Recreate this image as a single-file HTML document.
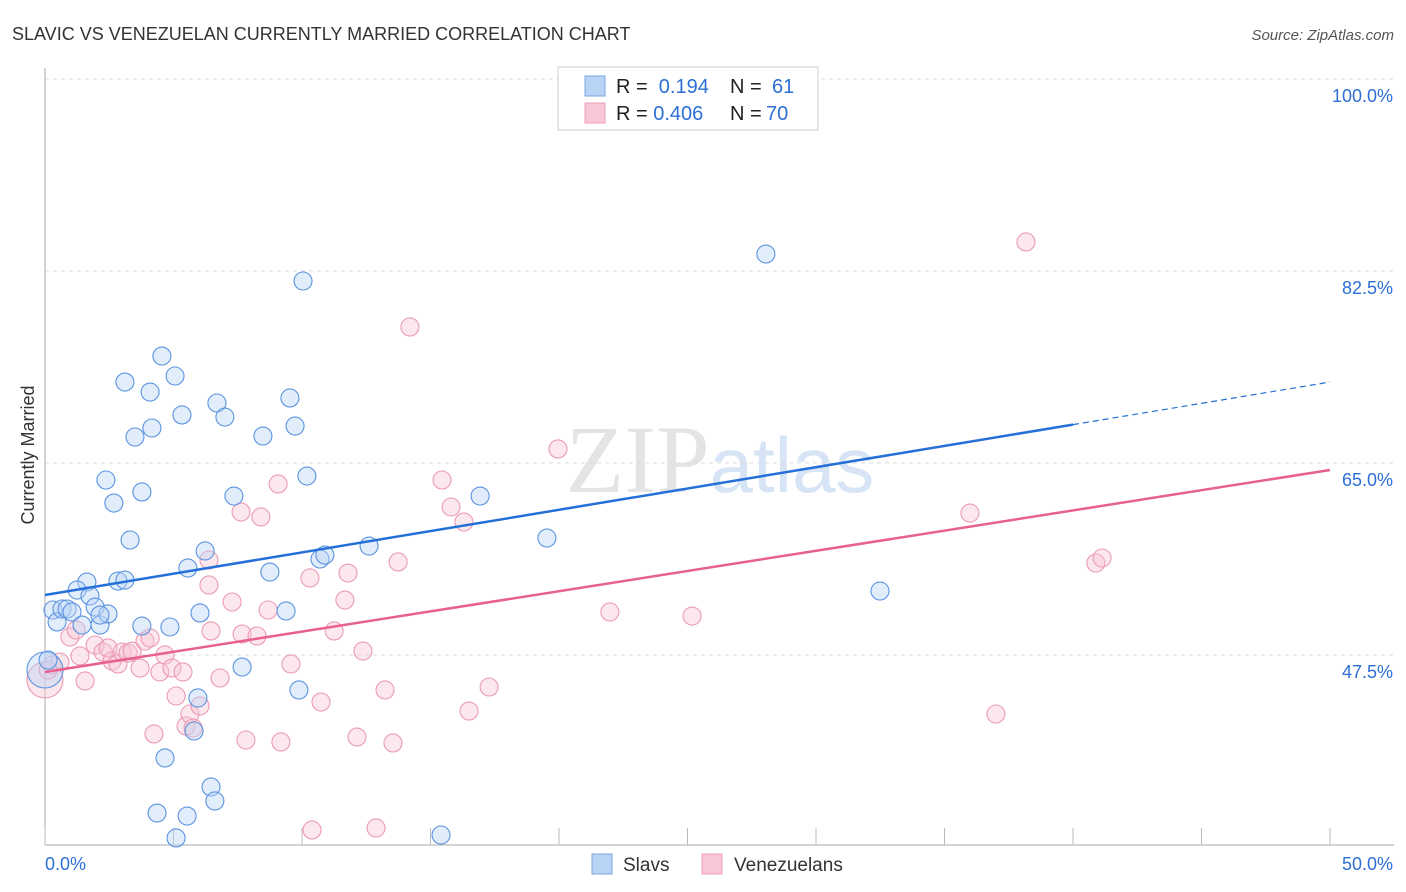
<!DOCTYPE html>
<html><head><meta charset="utf-8"><style>
body{margin:0;background:#fff;font-family:"Liberation Sans",sans-serif}
svg{display:block}
</style></head><body>
<svg id="chart" width="1406" height="892">
<text x="12" y="40" font-size="18" fill="#333">SLAVIC VS VENEZUELAN CURRENTLY MARRIED CORRELATION CHART</text>
<text x="1394" y="40" font-size="15" fill="#555" font-style="italic" text-anchor="end">Source: ZipAtlas.com</text>
<text x="720" y="492" font-size="96" fill="#e4e4e4" text-anchor="middle" font-family="Liberation Serif,serif">ZIP<tspan fill="#d6e4f5" font-family="Liberation Sans,sans-serif" font-size="78">atlas</tspan></text>
<text transform="translate(34,455) rotate(-90)" font-size="18" fill="#333" text-anchor="middle">Currently Married</text>
<g id="grid"></g><g id="marks"></g>
<g>
<rect x="558" y="67" width="260" height="63" fill="#fff" stroke="#ccc"/>
<rect x="585" y="76" width="20" height="20" fill="#b9d3f5" stroke="#7aa7e3"/>
<rect x="585" y="103" width="20" height="20" fill="#f9c6d5" stroke="#eba0b8"/>
<text x="616" y="93" font-size="20" fill="#222">R = <tspan fill="#2d6fd6">&#160;0.194</tspan><tspan x="730">N = </tspan><tspan fill="#2d6fd6" x="772">61</tspan></text>
<text x="616" y="120" font-size="20" fill="#222">R = <tspan fill="#2d6fd6">0.406</tspan><tspan x="730">N = </tspan><tspan fill="#2d6fd6" x="766">70</tspan></text>
</g>
<g>
<rect x="592" y="854" width="20" height="20" fill="#b9d3f5" stroke="#7aa7e3"/>
<text x="623" y="871" font-size="19" fill="#333">Slavs</text>
<rect x="702" y="854" width="20" height="20" fill="#f9c6d5" stroke="#eba0b8"/>
<text x="734" y="871" font-size="19" fill="#333">Venezuelans</text>
</g>
</svg>
<script>
const yTicks=[47.5,65,82.5,100];
const yTickLabels=["47.5%","65.0%","82.5%","100.0%"];
const xTickLabels=["0.0%","50.0%"];
const slavX=[0.31,0.47,0.66,0.86,1.05,1.63,1.25,1.75,1.95,2.14,2.45,1.44,2.14,2.37,2.68,2.84,3.11,3.31,3.11,3.50,3.77,4.09,4.16,4.55,5.06,5.33,3.77,4.86,5.56,6.03,6.23,6.69,7.00,7.35,8.48,8.75,9.38,9.53,9.73,10.19,10.04,7.67,5.95,5.80,4.67,6.46,6.61,4.36,5.53,5.10,9.88,10.70,10.89,12.61,15.41,16.93,19.53,28.05,32.49,0,0.12];
const slavY=[51.60,50.51,51.69,51.69,51.42,54.15,53.42,52.88,51.87,50.23,51.24,50.23,51.14,63.45,61.35,54.24,54.33,57.98,72.38,67.37,62.36,71.47,68.19,74.75,72.93,69.38,50.14,50.05,55.43,51.33,56.98,70.47,69.19,61.99,67.46,55.06,51.51,70.93,68.37,63.81,81.59,46.40,43.58,40.57,38.11,35.47,34.19,33.09,32.82,30.82,44.31,56.25,56.61,57.43,31.09,61.99,58.16,84.05,53.33,46.13,47.04];
const venX=[0,0.27,0.58,0.97,1.21,1.36,1.56,1.95,2.26,2.45,2.61,2.84,3.00,3.23,3.39,3.70,3.89,4.09,4.24,4.47,4.67,4.94,5.10,5.37,5.49,5.64,5.76,6.03,6.38,6.38,6.46,6.81,7.28,7.67,7.82,7.63,8.25,8.40,8.68,9.07,9.18,9.57,10.31,10.39,10.74,11.25,11.67,11.79,12.14,12.37,12.88,13.23,13.54,13.74,14.20,15.45,15.80,16.30,16.50,17.28,19.96,21.98,25.18,35.99,37.00,38.17,40.89,41.13,0.12];
const venY=[45.22,46.59,46.86,49.14,49.78,47.41,45.13,48.41,47.77,48.14,46.95,46.68,47.77,47.68,47.86,46.31,48.77,49.05,40.30,45.95,47.50,46.31,43.76,45.95,41.03,42.12,40.84,42.85,56.16,53.88,49.69,45.40,52.33,49.41,39.75,60.53,49.23,60.08,51.60,63.09,39.57,46.68,54.52,31.55,43.21,49.69,52.51,54.97,40.02,47.86,31.73,44.31,39.48,55.98,77.40,63.45,60.99,59.62,42.39,44.58,66.28,51.42,51.05,60.44,42.12,85.15,55.88,56.34,46.13];
const slavTrend=[52.97,72.38];
const venTrend=[45.95,64.36];
const NS="http://www.w3.org/2000/svg";
const X=v=>45+v*25.7, Y=v=>463-(v-65)*10.97;
function mk(t,a,p){const e=document.createElementNS(NS,t);for(const k in a)e.setAttribute(k,a[k]);p.appendChild(e);return e;}
const g=document.getElementById('grid'), m=document.getElementById('marks');
yTicks.forEach((t,i)=>{
 const l=mk('line',{x1:45,x2:1394,y1:Y(t),y2:Y(t),stroke:'#ddd','stroke-dasharray':'4 4'},g);
 
 
 const tx=mk('text',{x:1393,y:Y(t)+23,'font-size':18,fill:'#2d6fd6','text-anchor':'end'},g);
 tx.textContent=yTickLabels[i];
 
 
});
const ax=mk('line',{x1:45,x2:1394,y1:845,y2:845,stroke:'#aaa'},g);


const ay=mk('line',{x1:45,x2:45,y1:68,y2:845,stroke:'#aaa'},g);


for(let i=0;i<=10;i++){const tk=mk('line',{x1:X(i*5),x2:X(i*5),y1:828,y2:845,stroke:'#bbb'},g);
 
 }
[[0,'start'],[50,'end']].forEach((p,i)=>{const tx=mk('text',{x:i?1393:45,y:870,'font-size':18,fill:'#2d6fd6','text-anchor':p[1]},g);tx.textContent=xTickLabels[i];
 
 });
function pts(xs,ys,fill,stroke,name){xs.forEach((x,i)=>{const big=(x===0);const c=mk('circle',{cx:X(x),cy:Y(ys[i]),r:big?18:9,fill:fill,'fill-opacity':0.42,stroke:stroke,'stroke-width':1.1},m);
 
 });}
pts(venX,venY,'#f9c6d5','#eb9ab5','venezuelan-point');
pts(slavX,slavY,'#b9d3f5','#5a93e0','slav-point');
const bs=(slavTrend[1]-slavTrend[0])/50;
const l1=mk('line',{x1:X(0),y1:Y(slavTrend[0]),x2:X(40),y2:Y(slavTrend[0]+bs*40),stroke:'#2470d8','stroke-width':2.5},m);


const l2=mk('line',{x1:X(40),y1:Y(slavTrend[0]+bs*40),x2:X(50),y2:Y(slavTrend[1]),stroke:'#2470d8','stroke-width':1.2,'stroke-dasharray':'6 4'},m);


const l3=mk('line',{x1:X(0),y1:Y(venTrend[0]),x2:X(50),y2:Y(venTrend[1]),stroke:'#e8608d','stroke-width':2.5},m);


</script>
</body></html>
